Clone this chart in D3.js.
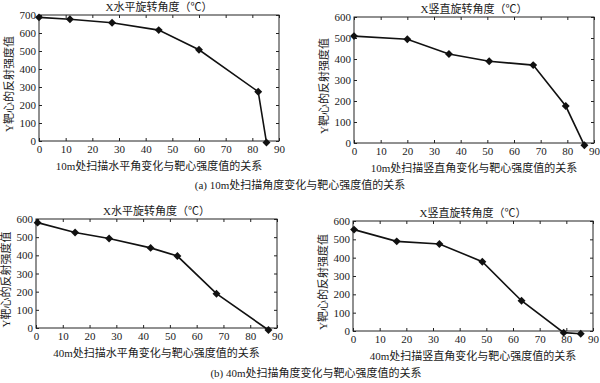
<!DOCTYPE html>
<meta charset="utf-8">
<style>
  body { margin: 0; background: #fff; }
  svg text { fill: #1a1a1a; }
  .tick-label { font-family: "Liberation Serif", "DejaVu Serif", serif; font-size: 11px; }
  .cn { font-family: "Liberation Serif", "Noto Sans CJK SC", serif; font-size: 11px; }
</style>
<body>
<script src="https://cdnjs.cloudflare.com/ajax/libs/d3/7.8.5/d3.min.js"></script>
<script>
// tick labels
var xTicks = [0, 10, 20, 30, 40, 50, 60, 70, 80, 90];
var yTicks700 = [0, 100, 200, 300, 400, 500, 600, 700];
var yTicks600 = [0, 100, 200, 300, 400, 500, 600];

// (a) 10m, horizontal
var a1Angle = [0, 11.6, 27.4, 44.9, 60, 82.2, 85.3];
var a1Value = [687, 676, 657, 616, 507, 274, -8];
// (a) 10m, vertical
var a2Angle = [0, 20, 35.6, 50.7, 67.2, 79.4, 86.4];
var a2Value = [509, 494, 424, 389, 371, 176, -11];
// (b) 40m, horizontal
var b1Angle = [0.6, 14.6, 27.3, 42.8, 52.8, 67.4, 86.8];
var b1Value = [580, 526, 493, 441, 396, 189, -11];
// (b) 40m, vertical
var b2Angle = [0.4, 16.4, 32.4, 48.5, 63.2, 79, 85.4];
var b2Value = [553, 489, 475, 378, 165, -9, -15];

var titles = ["X水平旋转角度（℃）", "X竖直旋转角度（℃）", "X水平旋转角度（℃）", "X竖直旋转角度（℃）"];
var xLabels = ["10m处扫描水平角变化与靶心强度值的关系", "10m处扫描竖直角变化与靶心强度值的关系",
               "40m处扫描水平角变化与靶心强度值的关系", "40m处扫描竖直角变化与靶心强度值的关系"];
var yLabel = "Y靶心的反射强度值";
var captions = ["(a) 10m处扫描角度变化与靶心强度值的关系", "(b) 40m处扫描角度变化与靶心强度值的关系"];

var width = 600, height = 383;
var svg = d3.select("body").append("svg").attr("width", width).attr("height", height);

var panels = [
  { box: [39, 15, 279, 141], ymax: 700, yt: yTicks700, xs: a1Angle, ys: a1Value },
  { box: [354, 17, 594, 143], ymax: 600, yt: yTicks600, xs: a2Angle, ys: a2Value },
  { box: [36, 219, 277, 328], ymax: 600, yt: yTicks600, xs: b1Angle, ys: b1Value },
  { box: [353, 221, 593, 331], ymax: 600, yt: yTicks600, xs: b2Angle, ys: b2Value }
];

var diamond = d3.symbol().type(d3.symbolDiamond2).size(40);

panels.forEach(function(p, i) {
  var l = p.box[0], t = p.box[1], r = p.box[2], b = p.box[3];
  var x = d3.scaleLinear().domain([0, 90]).range([l, r]);
  var y = d3.scaleLinear().domain([0, p.ymax]).range([b, t]);
  var g = svg.append("g");

  // ticks inward on all four sides (box style)
  var tl = 3;
  g.append("g").attr("transform", "translate(0," + b + ")")
    .call(d3.axisBottom(x).tickValues(xTicks).tickSize(-tl).tickPadding(4))
    .call(function(s) { s.select(".domain").remove(); });
  g.append("g").attr("transform", "translate(0," + t + ")")
    .call(d3.axisTop(x).tickValues(xTicks).tickSize(-tl).tickFormat(""))
    .call(function(s) { s.select(".domain").remove(); });
  g.append("g").attr("transform", "translate(" + l + ",0)")
    .call(d3.axisLeft(y).tickValues(p.yt).tickSize(-tl).tickPadding(3))
    .call(function(s) { s.select(".domain").remove(); });
  g.append("g").attr("transform", "translate(" + r + ",0)")
    .call(d3.axisRight(y).tickValues(p.yt).tickSize(-tl).tickFormat(""))
    .call(function(s) { s.select(".domain").remove(); });

  g.selectAll(".tick text").attr("class", "tick-label").attr("font-size", null).attr("font-family", null);
  g.selectAll(".tick line").attr("stroke", "#222");

  g.append("rect").attr("x", l).attr("y", t).attr("width", r - l).attr("height", b - t)
    .attr("fill", "none").attr("stroke", "#222").attr("stroke-width", 1);

  var pts = p.xs.map(function(v, k) { return [v, p.ys[k]]; });
  g.append("path").datum(pts)
    .attr("d", d3.line().x(function(d) { return x(d[0]); }).y(function(d) { return y(d[1]); }))
    .attr("fill", "none").attr("stroke", "#111").attr("stroke-width", 1.6);
  g.selectAll(".mk").data(pts).enter().append("path")
    .attr("transform", function(d) { return "translate(" + x(d[0]) + "," + y(d[1]) + ")"; })
    .attr("d", diamond).attr("fill", "#111");

  var cx = (l + r) / 2;
  g.append("text").attr("class", "cn").attr("x", cx).attr("y", t - 4)
    .attr("text-anchor", "middle").attr("font-size", 12).text(titles[i]);
  g.append("text").attr("class", "cn").attr("x", cx).attr("y", b + 29)
    .attr("text-anchor", "middle").attr("font-size", 11.5).text(xLabels[i]);
  g.append("text").attr("class", "cn")
    .attr("transform", "translate(" + (l - 26) + "," + ((t + b) / 2 + 6) + ") rotate(-90)")
    .attr("text-anchor", "middle").attr("font-size", 11.5).text(yLabel);
});

svg.append("text").attr("class", "cn").attr("x", 300).attr("y", 189)
  .attr("text-anchor", "middle").attr("font-size", 11).text(captions[0]);
svg.append("text").attr("class", "cn").attr("x", 316).attr("y", 377)
  .attr("text-anchor", "middle").attr("font-size", 11).text(captions[1]);
</script>
</body>
